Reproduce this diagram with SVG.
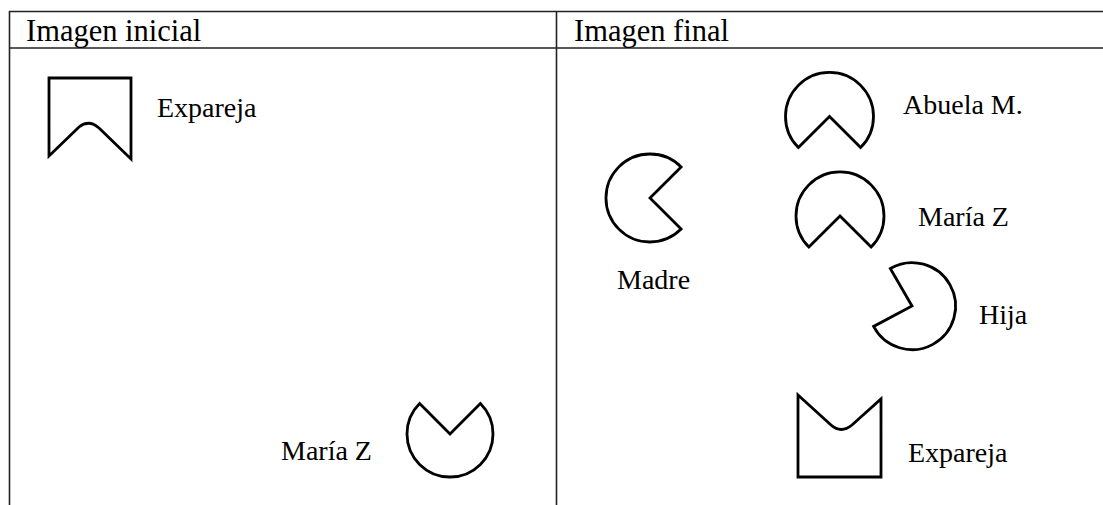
<svg xmlns="http://www.w3.org/2000/svg" width="1103" height="505" viewBox="0 0 1103 505">
  <style>
    .grid { stroke: #222; stroke-width: 1.6; fill: none; }
    .shape { fill: #fff; stroke: #000; stroke-width: 2.8; stroke-linejoin: miter; }
    text { font-family: 'Liberation Serif', 'DejaVu Serif', serif; fill: #000; }
    .head { font-size: 30.5px; }
    .lbl { font-size: 28px; }
  </style>
  <rect width="1103" height="505" fill="#fff"/>
  <g id="table">
    <line class="grid" x1="9" y1="11.5" x2="1103" y2="11.5"/>
    <line class="grid" x1="9" y1="48" x2="1103" y2="48"/>
    <line class="grid" x1="9.5" y1="11" x2="9.5" y2="505"/>
    <line class="grid" x1="556.5" y1="11" x2="556.5" y2="505"/>
    <text class="head" x="26" y="41" font-family="Liberation Serif, DejaVu Serif, serif">Imagen inicial</text>
    <text class="head" x="574" y="41" font-family="Liberation Serif, DejaVu Serif, serif">Imagen final</text>
  </g>
  <g id="expareja-inicial">
    <path class="shape" d="M49,78 H131 V159 L99,128 Q89,119 79,127 L49,156 Z"/>
    <text class="lbl" x="157" y="117" font-family="Liberation Serif, DejaVu Serif, serif">Expareja</text>
  </g>
  <g id="maria-inicial">
    <path class="shape" d="M450,434 L480.4,403.6 A43,43 0 1 1 419.6,403.6 Z"/>
    <text class="lbl" x="281" y="460" font-family="Liberation Serif, DejaVu Serif, serif">María Z</text>
  </g>
  <g id="madre">
    <path class="shape" d="M650,198 L681.1,229.1 A44,44 0 1 1 681.1,166.9 Z"/>
    <text class="lbl" x="617" y="289" font-family="Liberation Serif, DejaVu Serif, serif">Madre</text>
  </g>
  <g id="abuela">
    <path class="shape" d="M829.5,116.5 L798.4,147.6 A44,44 0 1 1 860.6,147.6 Z"/>
    <text class="lbl" x="903" y="114" font-family="Liberation Serif, DejaVu Serif, serif">Abuela M.</text>
  </g>
  <g id="maria-final">
    <path class="shape" d="M840,216 L808.9,247.1 A44,44 0 1 1 871.1,247.1 Z"/>
    <text class="lbl" x="918" y="226" font-family="Liberation Serif, DejaVu Serif, serif">María Z</text>
  </g>
  <g id="hija">
    <path class="shape" d="M912,306 L890.3,268.5 A43.5,43.5 0 1 1 873.6,326.4 Z"/>
    <text class="lbl" x="979" y="324" font-family="Liberation Serif, DejaVu Serif, serif">Hija</text>
  </g>
  <g id="expareja-final">
    <path class="shape" d="M798,395 L831,425 Q841,434 852,425 L881,399 V477 H798 Z"/>
    <text class="lbl" x="908" y="462" font-family="Liberation Serif, DejaVu Serif, serif">Expareja</text>
  </g>
  <g id="connectors"></g>
</svg>
